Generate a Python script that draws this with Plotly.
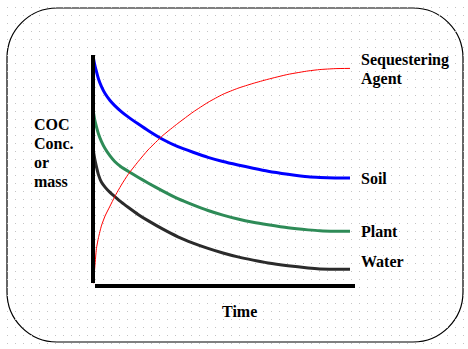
import numpy as np
import plotly.graph_objects as go

W, H = 468, 349

# Relative concentration / mass (0-100) against relative time (0-100)
time = [0, 0.6, 1.3, 2.1, 3.2, 4.6, 6.5, 8.3, 10.8, 13.4, 17.2, 21.0, 26.7,
        32.4, 38.2, 43.9, 49.6, 55.3, 61.1, 66.8, 74.4, 82.1, 86.6, 92.4, 98.1]
soil = [99.7, 96.1, 92.9, 89.6, 86.4, 83.3, 80.3, 78.1, 75.5, 73.2, 70.2, 67.3, 63.4,
        60.3, 57.9, 55.7, 53.9, 52.4, 51.0, 49.7, 48.4, 47.3, 47.0, 46.8, 46.8]
plant = [76.5, 72.3, 69.0, 65.8, 62.6, 59.5, 56.3, 53.9, 51.5, 49.7, 47.1, 44.6, 41.1,
         37.8, 35.1, 32.7, 30.7, 29.0, 27.6, 26.5, 25.2, 24.3, 23.9, 23.7, 23.7]
water = [59.6, 55.4, 51.7, 48.1, 45.0, 42.8, 40.5, 38.7, 36.3, 34.1, 31.0, 28.3, 24.6,
         21.3, 18.6, 16.3, 14.3, 12.6, 11.2, 10.0, 8.8, 7.8, 7.4, 7.3, 7.3]
agent = [1.1, 6.9, 16.2, 21.0, 26.0, 30.3, 34.6, 38.7, 43.7, 48.3, 53.8, 58.9, 65.2,
         70.4, 75.3, 79.5, 83.0, 85.6, 87.7, 89.5, 91.6, 93.1, 93.7, 94.1, 94.2]

series_names = ["Soil", "Plant", "Water", "Sequestering Agent"]
series_vals = [soil, plant, water, agent]
series_colors = ["#0000ff", "#2e8b57", "#2b2b2b", "#ff0000"]
series_widths = [3, 3, 3, 1]

FONT = dict(family="Liberation Serif, Times New Roman, serif", size=16, color="black", weight="bold")

# plot area of the chart in page pixels
PX_L, PX_R, PX_T, PX_B = 93, 355, 55, 286

fig = go.Figure()

# faint dotted background grid, drawn on a page-pixel frame
gx, gy = np.meshgrid(np.arange(7, W, 8) + 0.5, np.arange(7, H, 8) + 0.5)
fig.add_trace(go.Scatter(
    x=gx.ravel(), y=gy.ravel(), mode="markers",
    marker=dict(symbol="square", size=1, color="#c4c4c4", line=dict(width=0)),
    hoverinfo="skip", showlegend=False, xaxis="x", yaxis="y",
))

for name, vals, col, lw in zip(series_names, series_vals, series_colors, series_widths):
    fig.add_trace(go.Scatter(
        x=time, y=vals, mode="lines", name=name,
        line=dict(color=col, width=lw, shape="spline", smoothing=0.5),
        hoverinfo="skip", showlegend=False, xaxis="x2", yaxis="y2",
    ))

# rounded frame around the whole chart
L, R, T, B, r = 7, 463, 8, 342, 50
k = 0.5523 * r
frame = (
    f"M {L + r},{T} L {R - r},{T} "
    f"C {R - r + k},{T} {R},{T + r - k} {R},{T + r} "
    f"L {R},{B - r} "
    f"C {R},{B - r + k} {R - r + k},{B} {R - r},{B} "
    f"L {L + r},{B} "
    f"C {L + r - k},{B} {L},{B - r + k} {L},{B - r} "
    f"L {L},{T + r} "
    f"C {L},{T + r - k} {L + r - k},{T} {L + r},{T} Z"
)

shapes = [
    dict(type="path", path=frame, xref="x", yref="y",
         line=dict(color="black", width=1.2), layer="below"),
    # axes
    dict(type="line", xref="x", yref="y", x0=PX_L, x1=PX_L, y0=PX_T, y1=PX_B - 3,
         line=dict(color="black", width=4), layer="above"),
    dict(type="line", xref="x", yref="y", x0=PX_L + 2, x1=PX_R, y0=PX_B, y1=PX_B,
         line=dict(color="black", width=4), layer="above"),
]

annotations = []


def label(text, x, y, xanchor="left"):
    annotations.append(dict(
        text=text, x=x, y=y, xref="x", yref="y", xanchor=xanchor, yanchor="middle",
        showarrow=False, font=FONT,
    ))


label("Sequestering", 359, 60)
label("Agent", 359, 79)
label("Soil", 359, 178)
label("Plant", 359, 231)
label("Water", 359, 261)
label("Time", 239, 311, "center")
for text, y in zip(["COC", "Conc.", "or", "mass"], [124, 143, 162, 181]):
    label(text, 32, y)

hidden = dict(visible=False, showgrid=False, zeroline=False, fixedrange=True)

fig.update_layout(
    width=W, height=H,
    margin=dict(l=0, r=0, t=0, b=0, pad=0),
    paper_bgcolor="white", plot_bgcolor="rgba(0,0,0,0)",
    xaxis=dict(domain=[0, 1], range=[0, W], **hidden),
    yaxis=dict(domain=[0, 1], range=[H, 0], **hidden),
    xaxis2=dict(domain=[PX_L / W, PX_R / W], range=[0, 100], anchor="y2", **hidden),
    yaxis2=dict(domain=[(H - PX_B) / H, (H - PX_T) / H], range=[0, 100], anchor="x2", **hidden),
    shapes=shapes, annotations=annotations,
    hovermode=False, showlegend=False,
)

fig.write_html("out.html", config=dict(displayModeBar=False))
